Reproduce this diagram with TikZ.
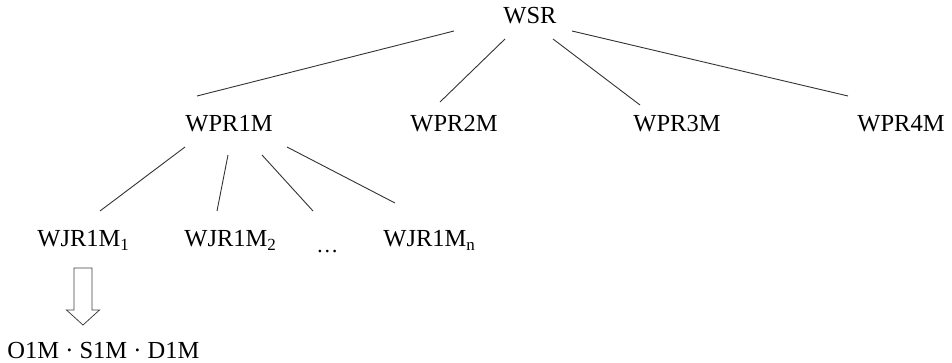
\documentclass[tikz,border=0pt]{standalone}
\usepackage{fontspec}
\setmainfont{Liberation Serif}
\newcommand{\lowsub}[1]{\raisebox{-4pt}{\fontsize{17}{17}\selectfont #1}}
\begin{document}
\begin{tikzpicture}[x=1pt, y=-1pt, line width=0.9pt,
  every node/.style={font=\fontsize{24.5}{28}\selectfont, inner sep=0pt, anchor=base west},
  link/.style={draw=black!80}]
  \useasboundingbox (0,0) rectangle (952,363);
  % Top level
  \node (wsr) at (503,24) {WSR};
  % Second level
  \node (wpr1) at (185,132) {WPR1M};
  \node (wpr2) at (410,132) {WPR2M};
  \node (wpr3) at (633,132) {WPR3M};
  \node (wpr4) at (857,132) {WPR4M};
  % Third level under WPR1M
  \node (wjr1) at (37,247)  {WJR1M\lowsub{1}};
  \node (wjr2) at (184,247) {WJR1M\lowsub{2}};
  \node[font=\fontsize{22}{26}\selectfont] (wjrdots) at (316,252) {…};
  \node (wjrn) at (383,247) {WJR1M\lowsub{n}};
  % Result of the first one
  \node (res) at (7,358) {O1M · S1M · D1M};
  % Links from WSR
  \draw[link] ([xshift=-49pt,yshift=-7pt]wsr.base west) -- ([xshift=12pt,yshift=36pt]wpr1.base west);
  \draw[link] ([xshift=2pt,yshift=-15pt]wsr.base west)  -- ([xshift=30pt,yshift=30pt]wpr2.base west);
  \draw[link] ([xshift=50pt,yshift=-15pt]wsr.base west) -- ([xshift=7pt,yshift=27pt]wpr3.base west);
  \draw[link] ([xshift=69pt,yshift=-7pt]wsr.base west)  -- ([xshift=-9pt,yshift=36pt]wpr4.base west);
  % Links from WPR1M
  \draw[link] ([yshift=-15pt]wpr1.base west)            -- ([xshift=63pt,yshift=36pt]wjr1.base west);
  \draw[link] ([xshift=43pt,yshift=-23pt]wpr1.base west) -- ([xshift=33pt,yshift=36pt]wjr2.base west);
  \draw[link] ([xshift=77pt,yshift=-23pt]wpr1.base west) -- ([xshift=-3pt,yshift=41pt]wjrdots.base west);
  \draw[link] ([xshift=102pt,yshift=-15pt]wpr1.base west) -- ([xshift=12pt,yshift=44pt]wjrn.base west);
  % Hollow arrow down to the result
  \coordinate (atop) at ([xshift=46pt,yshift=-21pt]wjr1.base west);
  \coordinate (atip) at ([xshift=76pt,yshift=33pt]res.base west);
  \draw[black!75, line width=0.8pt, line join=miter]
    ([xshift=-9pt]atop) -- ([xshift=-9pt,yshift=15pt]atip) -- ([xshift=-16.5pt,yshift=15pt]atip)
    -- (atip) -- ([xshift=16.5pt,yshift=15pt]atip) -- ([xshift=9pt,yshift=15pt]atip)
    -- ([xshift=9pt]atop) -- cycle;
\end{tikzpicture}
\end{document}
